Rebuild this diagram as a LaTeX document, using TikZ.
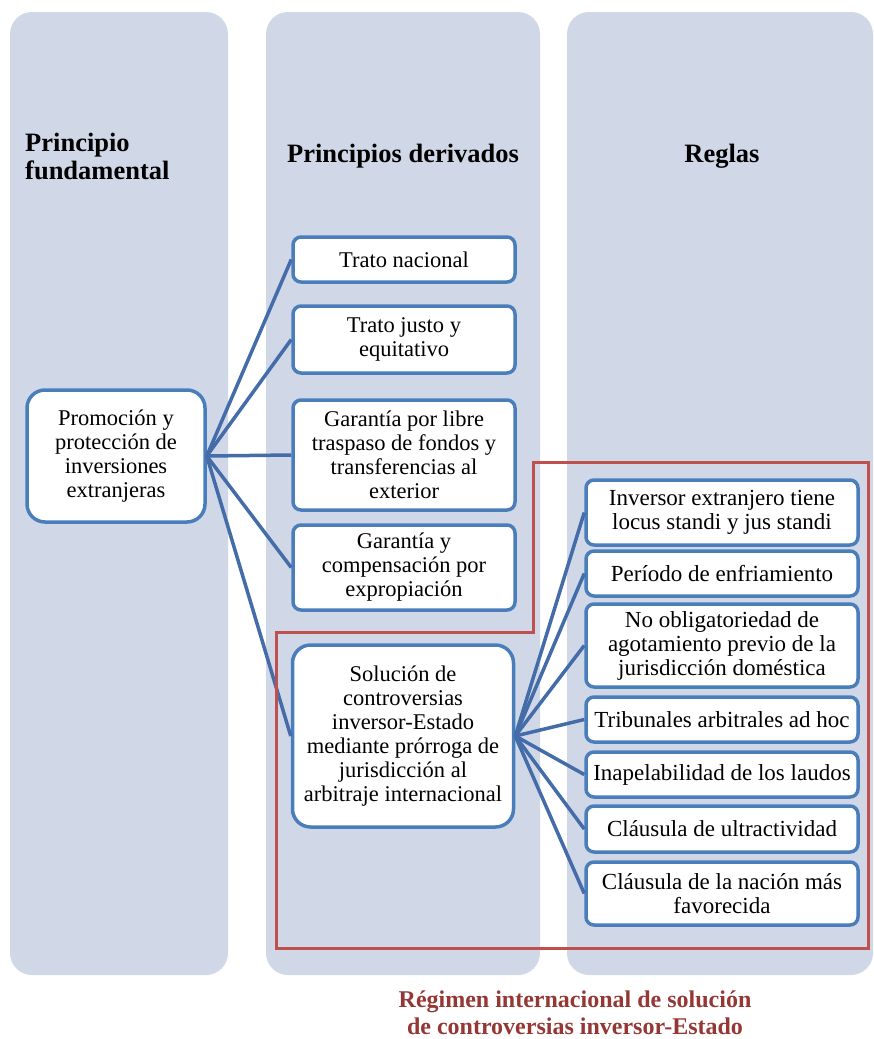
\documentclass[tikz,border=0pt]{standalone}
\usepackage{fontspec}
\setmainfont{Liberation Serif}
\definecolor{colbg}{RGB}{208,216,232}
\definecolor{bluel}{RGB}{74,126,187}
\definecolor{conn}{RGB}{68,108,168}
\definecolor{redl}{RGB}{192,80,77}
\definecolor{capred}{RGB}{149,55,53}
\tikzset{
  colbox/.style={fill=colbg, draw=none, rounded corners=22pt},
  box/.style={draw=bluel, line width=3.5pt, fill=white, rounded corners=8pt,
    align=center, inner sep=2pt, font=\fontsize{22.5}{24}\selectfont},
  rbox/.style={box, font=\fontsize{23}{24}\selectfont},
  bigbox/.style={box, rounded corners=18pt},
  hdr/.style={font=\fontsize{26.5}{28}\selectfont\bfseries, inner sep=0pt},
  link/.style={draw=conn, line width=3.5pt},
  regline/.style={draw=redl, line width=3pt},
  capt/.style={font=\fontsize{24}{27}\selectfont\bfseries, text=capred, align=center, inner sep=0pt},
}
\begin{document}
\begin{tikzpicture}[x=1pt,y=-1pt]
\useasboundingbox (0,0) rectangle (874,1039);
% columns
\fill[colbox] (10,12) rectangle (228,975);
\fill[colbox] (266,12) rectangle (540,975);
\fill[colbox] (567,12) rectangle (873,975);
% headers
\node[hdr, anchor=west, align=left] (h1) at (25,156) {Principio\\fundamental};
\node[hdr] (h2) at (403,156) {Principios derivados};
\node[hdr] (h3) at (722,156) {Reglas};
% left box
\node[bigbox, minimum width=178pt, minimum height=132pt] (prom) at (116,456)
  {Promoción y\\protección de\\inversiones\\extranjeras};
% column 2
\node[box, minimum width=222pt, minimum height=45pt] (tn) at (404,259.5) {Trato nacional};
\node[box, minimum width=222pt, minimum height=67pt] (tj) at (404,339.5) {Trato justo y\\equitativo};
\node[box, minimum width=222pt, minimum height=110pt] (gl) at (404,455) {Garantía por libre\\traspaso de fondos y\\transferencias al\\exterior};
\node[box, minimum width=222pt, minimum height=85pt] (gc) at (404,567.5) {Garantía y\\compensación por\\expropiación};
\node[bigbox, minimum width=221pt, minimum height=182pt] (sol) at (403,736)
  {Solución de\\controversias\\inversor-Estado\\mediante prórroga de\\jurisdicción al\\arbitraje internacional};
% column 3
\node[rbox, minimum width=272pt, minimum height=65pt] (r1) at (722,512.5) {Inversor extranjero tiene\\locus standi y jus standi};
\node[rbox, minimum width=272pt, minimum height=45pt] (r2) at (722,573.5) {Período de enfriamiento};
\node[rbox, minimum width=272pt, minimum height=83pt] (r3) at (722,645.5) {No obligatoriedad de\\agotamiento previo de la\\jurisdicción doméstica};
\node[rbox, minimum width=272pt, minimum height=45pt] (r4) at (722,719.5) {Tribunales arbitrales ad hoc};
\node[rbox, minimum width=272pt, minimum height=45pt] (r5) at (722,774.5) {Inapelabilidad de los laudos};
\node[rbox, minimum width=272pt, minimum height=46pt] (r6) at (722,829) {Cláusula de ultractividad};
\node[rbox, minimum width=272pt, minimum height=63pt] (r7) at (722,893.5) {Cláusula de la nación más\\favorecida};
% connectors
\foreach \t in {tn,tj,gl,gc,sol} \draw[link] (prom.east) -- (\t.west);
\foreach \t in {r1,r2,r3,r4,r5,r6,r7} \draw[link] (sol.east) -- (\t.west);
% regime outline
\coordinate (ra) at (276,632);
\coordinate (rb) at (533,632);
\coordinate (rc) at (533,462);
\coordinate (rd) at (868,462);
\coordinate (re) at (868,948);
\coordinate (rf) at (276,948);
\draw[regline] (ra) -- (rb) -- (rc) -- (rd) -- (re) -- (rf) -- cycle;
% caption
\node[capt] (cap) at (575,1013) {Régimen internacional de solución\\de controversias inversor-Estado};
\end{tikzpicture}
\end{document}
